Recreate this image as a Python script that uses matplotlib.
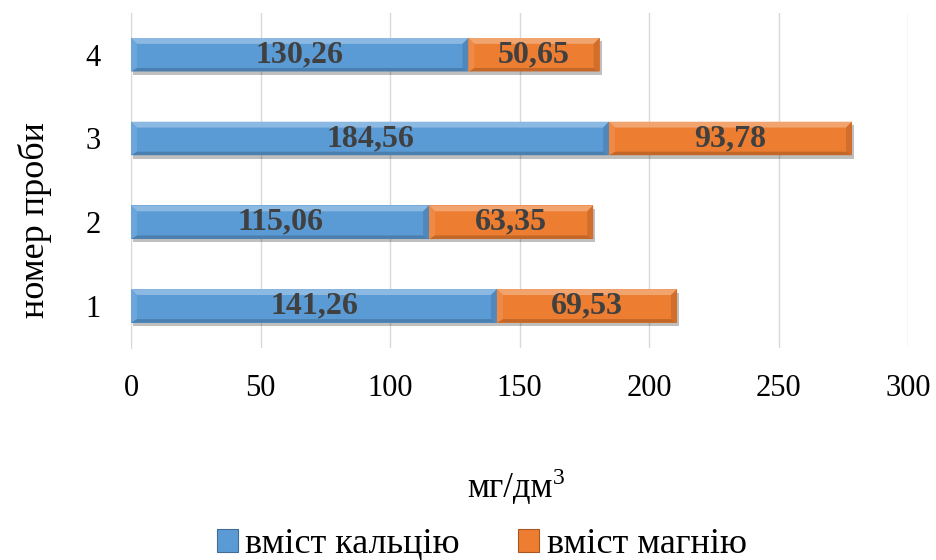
import numpy as np
import matplotlib
matplotlib.use("Agg")
import matplotlib.pyplot as plt
from matplotlib.patches import Polygon, Patch
import matplotlib.patheffects as pe

plt.rcParams['font.family'] = ['Liberation Serif', 'DejaVu Serif']

# ---------- Data ----------
samples = ["1", "2", "3", "4"]
calcium = [141.26, 115.06, 184.56, 130.26]
magnesium = [69.53, 63.35, 93.78, 50.65]

blue = "#5B9BD5"
orange = "#ED7D31"

fig = plt.figure(figsize=(9.37, 5.6), dpi=100)
ax = fig.add_axes([0.1398, 0.379, 0.8294, 0.598])

y = np.arange(1, len(samples) + 1)
h = 0.4
shadow = [pe.SimplePatchShadow(offset=(1.5, -2.5), shadow_rgbFace="#000000", alpha=0.25), pe.Normal()]

bars_ca = ax.barh(y, calcium, height=h, color=blue, zorder=3, path_effects=shadow)
bars_mg = ax.barh(y, magnesium, left=calcium, height=h, color=orange, zorder=3, path_effects=shadow)


def lighten(c, f):
    r, g, b = matplotlib.colors.to_rgb(c)
    return (r + (1 - r) * f, g + (1 - g) * f, b + (1 - b) * f)


def darken(c, f):
    r, g, b = matplotlib.colors.to_rgb(c)
    return (r * (1 - f), g * (1 - f), b * (1 - f))


# bevel edges on each bar segment
dx, dy = 2.3, 0.07
for bars, col in [(bars_ca, blue), (bars_mg, orange)]:
    for p in bars:
        x0, y0 = p.get_x(), p.get_y()
        x1, y1 = x0 + p.get_width(), y0 + p.get_height()
        top = [(x0, y1), (x1, y1), (x1 - dx, y1 - dy), (x0 + dx, y1 - dy)]
        bot = [(x0, y0), (x1, y0), (x1 - dx, y0 + dy * 0.6), (x0 + dx, y0 + dy * 0.6)]
        left = [(x0, y0), (x0, y1), (x0 + dx, y1 - dy), (x0 + dx, y0 + dy * 0.6)]
        right = [(x1, y0), (x1, y1), (x1 - dx, y1 - dy), (x1 - dx, y0 + dy * 0.6)]
        ax.add_patch(Polygon(top, closed=True, color=lighten(col, 0.3), lw=0, zorder=4))
        ax.add_patch(Polygon(bot, closed=True, color=darken(col, 0.18), lw=0, zorder=4))
        ax.add_patch(Polygon(left, closed=True, color=lighten(col, 0.1), lw=0, zorder=4))
        ax.add_patch(Polygon(right, closed=True, color=darken(col, 0.12), lw=0, zorder=4))

# value labels
for bars, vals in [(bars_ca, calcium), (bars_mg, magnesium)]:
    for p, v in zip(bars, vals):
        ax.text(p.get_x() + p.get_width() / 2, p.get_y() + p.get_height() / 2,
                f"{v:.2f}".replace(".", ","), ha="center", va="center",
                fontsize=23, fontweight="bold", color="#404040", zorder=5)

ax.set_xlim(0, 300)
ax.set_ylim(0.5, 4.5)
ax.set_xticks(np.arange(0, 301, 50))
ax.set_yticks(y)
ax.set_yticklabels(samples)
ax.tick_params(length=0, labelsize=22)
ax.tick_params(axis="x", pad=19)
ax.tick_params(axis="y", pad=22)
ax.grid(axis="x", color="#D9D9D9", lw=1, zorder=0)
for s in ["top", "right", "bottom"]:
    ax.spines[s].set_visible(False)
ax.spines["left"].set_color("#D9D9D9")

# axis titles
fig.text(0.037, 0.607, "номер проби", rotation=90, ha="center", va="center", fontsize=26)
fig.text(0.590, 0.112, "мг/дм", ha="right", va="baseline", fontsize=25)
fig.text(0.590, 0.135, "3", ha="left", va="baseline", fontsize=17)

handles = [Patch(facecolor=blue, edgecolor=darken(blue, 0.3), lw=0.8, label="вміст кальцію"),
           Patch(facecolor=orange, edgecolor=darken(orange, 0.3), lw=0.8, label="вміст магнію")]
fig.legend(handles=handles, loc="center", bbox_to_anchor=(0.514, 0.027), ncol=2, frameon=False,
           fontsize=26, handlelength=0.6, handleheight=0.6, handletextpad=0.2, columnspacing=1.6)

fig.savefig("out.png", dpi=100)
